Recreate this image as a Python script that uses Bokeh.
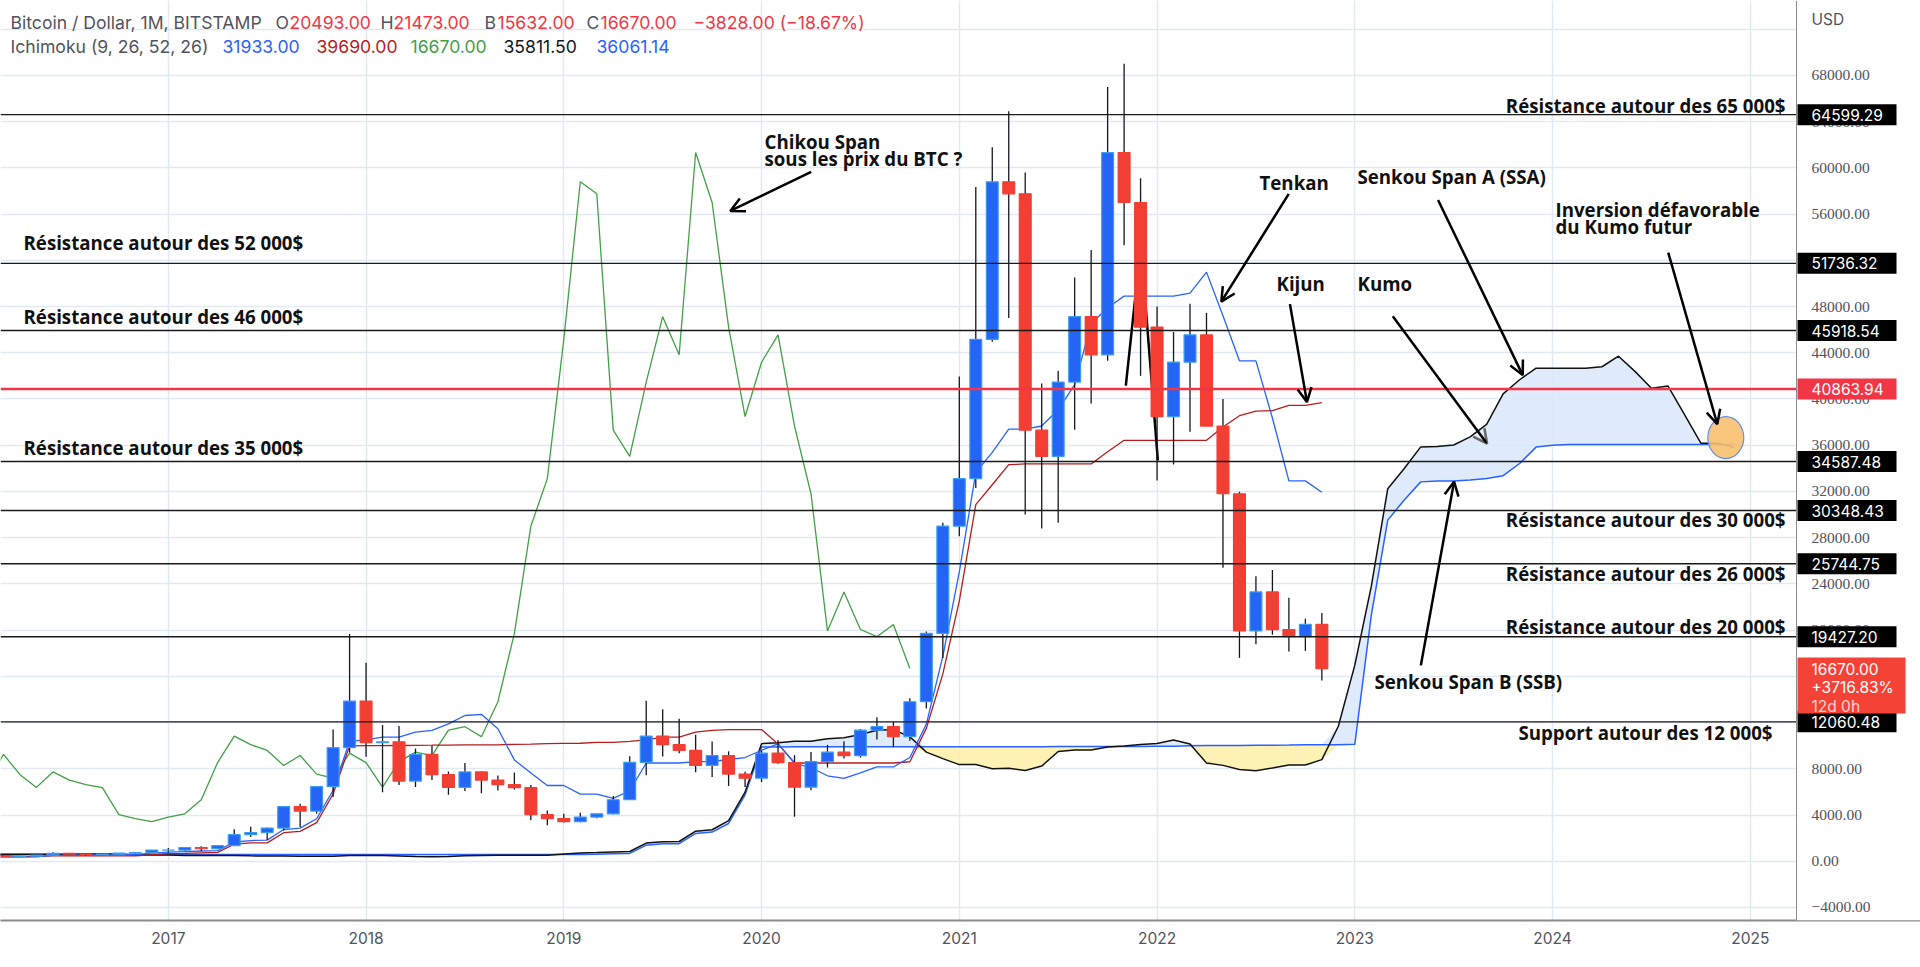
import numpy as np
import pandas as pd
from bokeh.plotting import figure
from bokeh.models import (Range1d, FixedTicker, Span, Label, LabelSet, Arrow, OpenHead,
                          ColumnDataSource, BoxAnnotation)
from bokeh.core.properties import value
from bokeh.embed import file_html
from bokeh.resources import INLINE

# ---------------- monthly candles (BITSTAMP BTC/USD), 2016-03 .. 2022-11 ----------------
candle_start = "2016-03"
opens = [437, 416, 448, 531, 673, 624, 573, 608, 700, 742,
         963, 965, 1190, 1080, 1348, 2300, 2480, 2870, 4730, 4340, 6450, 9840,
         13860, 10270, 10330, 6940, 9240, 7490, 6390, 7730, 7020, 6630, 6370, 4040,
         3690, 3430, 3820, 4100, 5320, 8560, 10830, 10090, 9590, 8290, 9150, 7540,
         7190, 9350, 8530, 6410, 8620, 9440, 9140, 11340, 11640, 10780, 13800, 19710,
         28990, 33110, 45160, 58790, 57750, 37300, 35040, 41460, 47120, 43820, 61320, 57000,
         46220, 38480, 43180, 45540, 37650, 31800, 19930, 23300, 20050, 19430, 20493]
highs = [439, 467, 547, 768, 704, 626, 628, 720, 755, 975,
         1153, 1200, 1290, 1350, 2760, 2980, 2920, 4740, 4980, 6470, 11400, 19666,
         17180, 11780, 11710, 9750, 9990, 7760, 8500, 7760, 7410, 7680, 6600, 4400,
         4110, 4200, 4140, 5640, 9080, 13880, 13150, 12330, 10940, 10370, 9510, 7750,
         9570, 10500, 9180, 9460, 10070, 10390, 11440, 12470, 12070, 14100, 19880, 29300,
         41950, 58350, 61780, 64900, 59600, 41330, 42450, 50500, 52900, 67000, 69000, 59100,
         47990, 45800, 48230, 47450, 40000, 31980, 24670, 25200, 22800, 20990, 21473]
lows = [395, 415, 436, 523, 604, 480, 570, 605, 680, 742,
        752, 918, 890, 1070, 1340, 2100, 1830, 2670, 2970, 4110, 5560, 9400,
        9050, 5970, 6600, 6430, 7040, 5760, 6070, 5880, 6120, 6200, 3550, 3120,
        3350, 3380, 3730, 4070, 5300, 7450, 9070, 9340, 7710, 7300, 6520, 6430,
        6860, 8440, 3850, 6150, 8110, 8890, 8970, 10530, 9880, 10420, 13220, 17580,
        28130, 32300, 44960, 47000, 30000, 28800, 29300, 37330, 39600, 43300, 53300, 42000,
        32950, 34330, 37160, 37700, 25400, 17600, 18780, 19600, 18150, 18200, 15632]
closes = [416, 448, 531, 673, 624, 573, 608, 700, 742, 963,
          965, 1190, 1080, 1348, 2300, 2480, 2870, 4730, 4340, 6450, 9840, 13860,
          10270, 10330, 6940, 9240, 7490, 6390, 7730, 7020, 6630, 6370, 4040, 3690,
          3430, 3820, 4100, 5320, 8560, 10830, 10090, 9590, 8290, 9150, 7540, 7190,
          9350, 8530, 6410, 8620, 9440, 9140, 11340, 11640, 10780, 13800, 19710, 28990,
          33110, 45160, 58790, 57750, 37300, 35040, 41460, 47120, 43820, 61320, 57000, 46220,
          38480, 43180, 45540, 37650, 31800, 19930, 23300, 20050, 19430, 20490, 16670]

# ---------------- Ichimoku (9, 26, 52, 26) ----------------
line_start = "2016-02"
tenkan = [349, 349, 349, 386, 501.5, 534, 557.5, 559, 567, 581.5, 695,
          794.5, 840, 885, 915, 1665, 1792.5, 1830, 2741, 2866, 3680, 6145, 10368,
          10503, 10748, 10748, 11168, 11318, 11888, 12613, 12713, 11470, 8770, 7630, 6555,
          6555, 5810, 5810, 5440, 6100, 8500, 8500, 8500, 8615, 8630, 8805, 8975,
          9605, 10155, 8500, 8090, 7395, 7175, 7645, 8160, 8160, 8975, 11865, 17725,
          25030, 33620, 35375, 37390, 37390, 37660, 39060, 41240, 46515, 47900, 48900, 48900,
          48900, 48900, 49150, 50975, 47200, 43300, 43300, 38350, 32915, 32915, 31933]
kijun = [576, 491, 426, 416, 460, 460, 460, 460, 460, 460, 563.5,
         652.5, 676, 728, 774, 1479, 1589, 1589, 2469, 2589, 3347.5, 5817.5, 9983,
         10006.5, 10008, 10016, 10030.5, 10040.5, 10051, 10073, 10073, 10073, 10118, 10135.5, 10173,
         10204, 10209, 10278, 10278, 10368, 10503, 10748, 10748, 11168, 11318, 11393, 11393,
         11393, 10150, 8500, 8500, 8500, 8500, 8500, 8500, 8500, 8610, 11500, 16210,
         22535, 30850, 32580, 34315, 34375, 34375, 34375, 34375, 34375, 35425, 36425, 36425,
         36425, 36425, 36425, 36425, 37575, 38555, 38945, 38985, 39440, 39440, 39690]
chikou_shift_months = 25
lead_start = "2016-02"
senkou_a = [600, 598, 600, 605, 610, 615, 620, 625, 628, 538, 534, 535,
            502, 502, 498, 487, 466, 460, 460, 442, 431, 443, 495, 503,
            500, 462.5, 420, 387.5, 401, 480.75, 497, 508.75, 509.5, 513.5, 520.75, 629.25,
            723.5, 758, 806.5, 844.5, 1572, 1690.75, 1709.5, 2605, 2727.5, 3513.75, 5981.25, 10175.5,
            10254.75, 10378, 10382, 10599.25, 10679.25, 10969.5, 11343, 11393, 10771.5, 9444, 8882.75, 8364,
            8379.5, 8009.5, 8044, 7859, 8234, 9501.5, 9624, 9624, 9891.5, 9974, 10099, 10184,
            10499, 10152.5, 8500, 8295, 7947.5, 7837.5, 8072.5, 8330, 8330, 8792.5, 11682.5, 16967.5,
            23782.5, 32235, 33977.5, 35852.5, 35882.5, 36017.5, 36717.5, 37807.5, 40445, 41662.5, 42662.5, 42662.5,
            42662.5, 42662.5, 42787.5, 43700, 42387.5, 40927.5, 41122.5, 38667.5, 36177.5, 36177.5, 35811.5]
senkou_b = [582, 582, 582, 582, 582, 582, 582, 582, 582, 582, 582, 582,
            582, 582, 582, 582, 582, 582, 582, 582, 582, 582, 582, 582,
            583, 583, 583, 583, 583, 583, 583, 583, 583, 583, 583, 583,
            583, 606, 651, 681, 1390, 1506, 1515, 2402, 2522, 3267, 5745, 9888,
            9893, 9909, 9909, 9909, 9909, 9909, 9909, 9909, 9909, 9909, 9909, 9909,
            9909, 9909, 9909, 9909, 9916, 9932, 9932, 9932, 9932, 9932, 9932, 9945.5,
            9950.5, 9983, 10006.5, 10008, 10016, 10030.5, 10040.5, 10051, 10073, 10073, 10073, 10118,
            21277.5, 29515, 31261, 32826, 32895, 32895, 32985, 33120, 33365, 34415, 35835, 35985,
            36061.14, 36061.14, 36061.14, 36061.14, 36061.14, 36061.14, 36061.14, 36061.14, 36061.14, 36061.14, 36061.14]

# ---------------- drawn levels and notes ----------------
resistance_levels = [64599.29, 51736.32, 45918.54, 34587.48, 30348.43, 25744.75, 19427.20, 12060.48]
red_level = 40863.94
last_price = 16670.00
last_price_lines = ["16670.00", "+3716.83%", "12d 0h"]
year_ticks = [2017, 2018, 2019, 2020, 2021, 2022, 2023, 2024, 2025]
price_ticks = list(range(-4000, 72000, 4000))
grid_ticks = list(range(-4000, 76000, 4000))

# arrows: (x_start, y_start, x_end, y_end) in (year, USD)
arrow_chikou = (2020.251, 59659, 2019.842, 56265)
arrow_tenkan = (2022.666, 57746, 2022.325, 48424)
arrow_kijun = (2022.672, 48208, 2022.758, 39735)
arrow_kumo = (2023.192, 47152, 2023.669, 36126)
arrow_ssa = (2023.421, 57218, 2023.849, 42063)
arrow_inv = (2024.585, 52666, 2024.833, 37822)
arrow_ssb = (2023.334, 16946, 2023.502, 32846)
peak_mark_x = [2021.842, 2021.918, 2022.004]
peak_mark_y = [41155, 53300, 34681]
inversion_spot = (2024.876, 36655)


def month_x(start, n):
    p0 = pd.Period(start, freq="M")
    return np.array([(p0 + i).year + ((p0 + i).month - 1) / 12.0 for i in range(n)])


FRAME_H = 920
PX_PER_YEAR = 197.75
x0 = 2016.1514
price_scale_x = 2025.2336          # where the price scale starts
x1 = x0 + 1920 / PX_PER_YEAR
y0, y1 = -5127, 74478
DPX = (y1 - y0) / FRAME_H          # USD per screen pixel

p = figure(width=1920, height=967, output_backend="svg", toolbar_location=None,
           x_range=Range1d(x0, x1), y_range=Range1d(y0, y1), y_axis_location=None,
           min_border_left=0, min_border_top=0, min_border_right=0, min_border_bottom=47)
p.outline_line_color = None
p.background_fill_color = "white"
p.border_fill_color = "white"

# time axis
p.xaxis.ticker = FixedTicker(ticks=year_ticks)
p.xaxis.major_tick_line_color = None
p.xaxis.minor_tick_line_color = None
p.xaxis.major_tick_out = 0
p.xaxis.major_tick_in = 0
p.xaxis.major_label_text_font = "Inter"
p.xaxis.major_label_text_font_size = "15.5px"
p.xaxis.major_label_text_color = "#50535e"
p.xaxis.axis_line_color = "#8c8c8c"
p.xaxis.axis_line_width = 2
p.xaxis.major_label_standoff = 11
p.xgrid.grid_line_color = "#e1e9f4"
p.xgrid.grid_line_width = 1.5
p.ygrid.ticker = FixedTicker(ticks=grid_ticks)
p.ygrid.grid_line_color = "#e1e9f4"
p.ygrid.grid_line_width = 1.5

# cloud
lx = month_x(lead_start, len(senkou_a))
sa = np.array(senkou_a, dtype=float)
sb = np.array(senkou_b, dtype=float)
p.varea(x=lx, y1=sb, y2=np.maximum(sa, sb), fill_color="#d9e7f9", fill_alpha=0.85)
p.varea(x=lx, y1=np.minimum(sa, sb), y2=sb, fill_color="#fdf0a6", fill_alpha=0.85)
p.line(lx, sb, line_color="#2962ff", line_width=1.5)
p.line(lx, sa, line_color="#111111", line_width=1.5)

# chikou span = closes drawn 25 months back
cx = month_x(candle_start, len(closes)) - chikou_shift_months / 12.0
p.line(cx, closes, line_color="#43a047", line_width=1.3)

# tenkan / kijun
tx = month_x(line_start, len(tenkan))
p.line(tx, kijun, line_color="#b71c1c", line_width=1.3)
p.line(tx, tenkan, line_color="#2962ff", line_width=1.3)

# hand drawn peak mark (partly hidden by the December 2021 candle)
p.line(peak_mark_x, peak_mark_y, line_color="#000000", line_width=2.5)

# candles
x = month_x(candle_start, len(opens))
o = np.array(opens, float); c = np.array(closes, float)
up = c >= o
src = ColumnDataSource(dict(x=x, high=highs, low=lows,
                            top=np.maximum(o, c), bottom=np.minimum(o, c),
                            fill=np.where(up, "#2465f5", "#f23e33"),
                            edge=np.where(up, "#3b9cf2", "#f23e33")))
p.segment(x0="x", y0="low", x1="x", y1="high", source=src, line_color="#131722", line_width=1.3)
p.vbar(x="x", width=0.06, top="top", bottom="bottom", source=src,
       fill_color="fill", line_color="edge", line_width=1.2)

# horizontal levels
for lv in resistance_levels:
    p.add_layout(Span(location=lv, dimension="width", line_color="#1a1a1a", line_width=1.4))
p.add_layout(Span(location=red_level, dimension="width", line_color="#f23645", line_width=2.5))

# orange inversion spot
p.ellipse(x=[inversion_spot[0]], y=[inversion_spot[1]], width=36, height=42,
          width_units="screen", height_units="screen",
          fill_color="#f8c070", fill_alpha=0.9, line_color="#5d8ff0", line_width=1.2)

# arrows
for a, head_col in ((arrow_chikou, "#000"), (arrow_tenkan, "#000"), (arrow_kijun, "#000"),
                    (arrow_kumo, "#666"), (arrow_ssa, "#000"), (arrow_inv, "#000"), (arrow_ssb, "#000")):
    p.add_layout(Arrow(end=OpenHead(line_color=head_col, line_width=2.5, size=14),
                       x_start=a[0], y_start=a[1], x_end=a[2], y_end=a[3],
                       line_color="#000", line_width=2.5))


def ty(y_top):
    return FRAME_H - y_top


# notes
notes = [
    ("Résistance autour des 65 000$", 1785, 105, "right"),
    ("Résistance autour des 52 000$", 23, 242, "left"),
    ("Résistance autour des 46 000$", 23, 316, "left"),
    ("Résistance autour des 35 000$", 23, 447, "left"),
    ("Résistance autour des 30 000$", 1785, 519, "right"),
    ("Résistance autour des 26 000$", 1785, 573, "right"),
    ("Résistance autour des 20 000$", 1785, 626, "right"),
    ("Support autour des 12 000$", 1772, 732, "right"),
    ("Chikou Span", 764, 141, "left"),
    ("sous les prix du BTC ?", 764, 158, "left"),
    ("Tenkan", 1259, 182, "left"),
    ("Kijun", 1276, 283, "left"),
    ("Kumo", 1357, 283, "left"),
    ("Senkou Span A (SSA)", 1357, 176, "left"),
    ("Inversion défavorable", 1555, 209, "left"),
    ("du Kumo futur", 1555, 226, "left"),
    ("Senkou Span B (SSB)", 1374, 681, "left"),
]
for txt, nx, ny, al in notes:
    p.add_layout(Label(x=nx, y=ty(ny), x_units="screen", y_units="screen", text=txt,
                       text_font="Open Sans", text_font_style="bold", text_font_size="18.7px",
                       text_color="#111111", text_align=al, text_baseline="middle"))

# header legend
GRAY, RED = "#50535e", "#f23645"
header = [
    ("Bitcoin / Dollar, 1M, BITSTAMP", 10, 22, GRAY),
    ("O", 275, 22, GRAY), ("20493.00", 289, 22, RED),
    ("H", 380, 22, GRAY), ("21473.00", 393, 22, RED),
    ("B", 484, 22, GRAY), ("15632.00", 497, 22, RED),
    ("C", 586, 22, GRAY), ("16670.00", 600, 22, RED),
    ("\u22123828.00 (\u221218.67%)", 693, 22, RED),
    ("Ichimoku (9, 26, 52, 26)", 10, 46, GRAY),
    ("31933.00", 222, 46, "#2962ff"), ("39690.00", 316, 46, "#b71c1c"),
    ("16670.00", 410, 46, "#43a047"), ("35811.50", 503, 46, "#131722"),
    ("36061.14", 596, 46, "#2962ff"),
]
for txt, hx, hy, col in header:
    p.add_layout(Label(x=hx, y=ty(hy), x_units="screen", y_units="screen", text=txt,
                       text_font="Inter", text_font_size="17.6px", text_color=col,
                       text_align="left", text_baseline="middle"))

# ---------------- price scale (right) ----------------
p.add_layout(BoxAnnotation(left=price_scale_x, fill_color="white", fill_alpha=1.0, line_color=None))
p.add_layout(Span(location=price_scale_x, dimension="height", line_color="#8c8c8c", line_width=1))
tick_labels = [("\u2212%d.00" % (-t)) if t < 0 else ("%d.00" % t) for t in price_ticks]
p.add_layout(LabelSet(x="x", y="y", text="t", x_offset=15,
                      source=ColumnDataSource(dict(x=[price_scale_x] * len(price_ticks), y=price_ticks,
                                                   t=tick_labels)),
                      text_font="Inter", text_font_size="15.5px", text_color="#50535e",
                      text_baseline="middle"))
p.add_layout(Label(x=1811, y=ty(19), x_units="screen", y_units="screen", text="USD",
                   text_font="Inter", text_font_size="15.5px", text_color=GRAY, text_baseline="middle"))

# badges (boxes in screen size, anchored to their price through the y scale)
badge_x = price_scale_x + 50.5 / PX_PER_YEAR
p.rect(x=[badge_x] * len(resistance_levels), y=resistance_levels, width=99, height=21,
       width_units="screen", height_units="screen", fill_color="#000000", line_color=None,
       level="overlay")
p.rect(x=[badge_x], y=[red_level], width=99, height=21, width_units="screen", height_units="screen",
       fill_color="#f23645", line_color=None, level="overlay")
p.rect(x=[price_scale_x + 55 / PX_PER_YEAR], y=[last_price - 17 * DPX], width=108, height=56,
       width_units="screen", height_units="screen", fill_color="#f44336", line_color=None,
       level="overlay")
badge_vals = resistance_levels + [red_level]
p.text(x=[price_scale_x] * len(badge_vals), y=badge_vals, text=["%.2f" % v for v in badge_vals],
       x_offset=15, text_font=value("Inter"), text_font_size="15.5px", text_color="white",
       text_baseline="middle", level="overlay")
p.text(x=[price_scale_x] * 3, y=[last_price, last_price - 19 * DPX, last_price - 38 * DPX],
       text=last_price_lines, x_offset=15, text_font=value("Inter"), text_font_size="15.5px",
       text_color=["white", "white", "#ffd3ce"], text_baseline="middle", level="overlay")

open("out.html", "w").write(file_html(p, INLINE))
